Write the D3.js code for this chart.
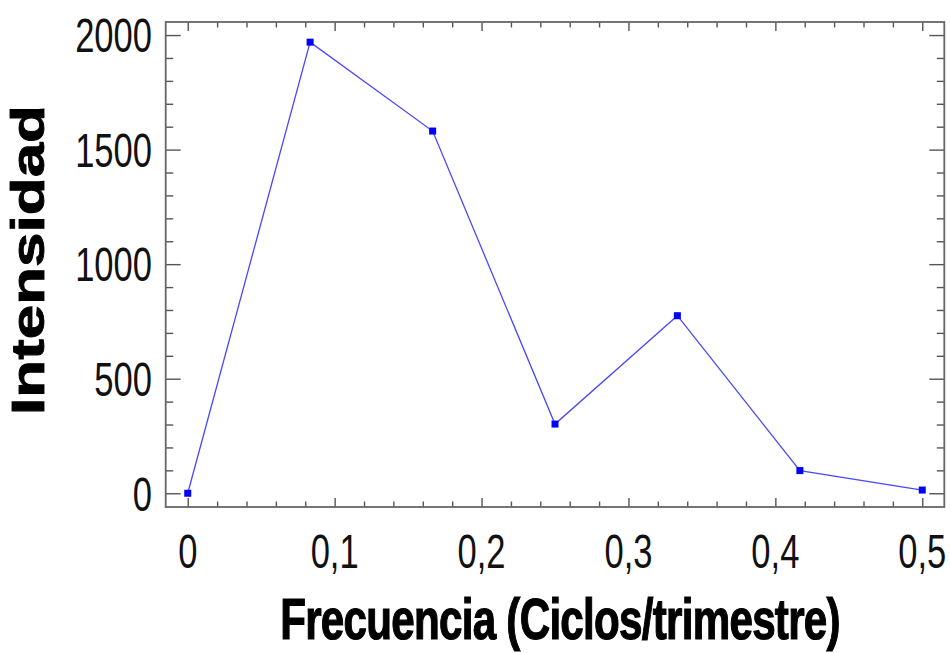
<!DOCTYPE html>
<html>
<head>
<meta charset="utf-8">
<script src="https://cdn.jsdelivr.net/npm/d3@7"></script>
<style>
  html, body { margin: 0; padding: 0; background: #fff; }
  svg { display: block; font-family: "Liberation Sans", Arial, sans-serif; }
</style>
</head>
<body>
<svg id="chart" width="950" height="653"></svg>
<script>
// Periodogram: intensity by frequency (cycles per quarter)
const frecuencia = [0, 0.0833, 0.1667, 0.25, 0.3333, 0.4167, 0.5];
const intensidad = [0, 1969, 1581, 302, 775, 99, 14];
const xTicks = [0, 0.1, 0.2, 0.3, 0.4, 0.5];
const xTickLabels = ["0", "0,1", "0,2", "0,3", "0,4", "0,5"];
const yTicks = [0, 500, 1000, 1500, 2000];
const yTickLabels = ["0", "500", "1000", "1500", "2000"];
const xTitle = "Frecuencia (Ciclos/trimestre)";
const yTitle = "Intensidad";

const svg = d3.select("#chart");
const plotL = 165.7, plotR = 944.3, plotT = 22, plotB = 507;
const squeeze = 0.72;

const x = d3.scaleLinear().domain([-0.015, 0.515]).range([plotL, plotR]);
const y = d3.scaleLinear().domain([-60, 2057]).range([plotB, plotT]);

const xMinor = d3.range(0, 0.5001, 0.02).filter(v => !xTicks.some(t => Math.abs(t - v) < 1e-6));
const yMinor = d3.range(0, 2001, 100).filter(v => v % 500 !== 0);

const tickColor = "#555";

// Inward ticks on all four sides
function tickAxis(gen, transform, size) {
  const g = svg.append("g").attr("transform", transform).call(gen.tickSize(size).tickFormat(""));
  g.select(".domain").remove();
  g.selectAll("line").attr("stroke", tickColor).attr("stroke-width", 1.4);
}
tickAxis(d3.axisBottom(x).tickValues(xTicks), `translate(0,${plotB})`, -9);
tickAxis(d3.axisBottom(x).tickValues(xMinor), `translate(0,${plotB})`, -5.5);
tickAxis(d3.axisTop(x).tickValues(xTicks), `translate(0,${plotT})`, -9);
tickAxis(d3.axisTop(x).tickValues(xMinor), `translate(0,${plotT})`, -5.5);
tickAxis(d3.axisLeft(y).tickValues(yTicks), `translate(${plotL},0)`, -15);
tickAxis(d3.axisLeft(y).tickValues(yMinor), `translate(${plotL},0)`, -7.5);
tickAxis(d3.axisRight(y).tickValues(yTicks), `translate(${plotR},0)`, -15);
tickAxis(d3.axisRight(y).tickValues(yMinor), `translate(${plotR},0)`, -7.5);

// Plot frame
svg.append("rect")
  .attr("x", plotL).attr("y", plotT)
  .attr("width", plotR - plotL).attr("height", plotB - plotT)
  .attr("fill", "none").attr("stroke", "#666").attr("stroke-width", 1.8);

// Tick labels
svg.append("g").selectAll("g")
  .data(yTicks)
  .join("g")
  .attr("transform", d => `translate(152,${y(d)}) scale(${squeeze},1)`)
  .append("text")
  .attr("text-anchor", "end")
  .attr("dy", "0.36em")
  .attr("font-size", 48)
  .attr("fill", "#111")
  .text((d, i) => yTickLabels[i]);

svg.append("g").selectAll("g")
  .data(xTicks)
  .join("g")
  .attr("transform", d => `translate(${x(d)},568) scale(${squeeze},1)`)
  .append("text")
  .attr("text-anchor", "middle")
  .attr("font-size", 48)
  .attr("fill", "#111")
  .text((d, i) => xTickLabels[i]);

// Axis titles (heavy bold)
svg.append("g")
  .attr("transform", `translate(${(plotL + plotR) / 2 + 5},639) scale(0.74,1)`)
  .append("text")
  .attr("text-anchor", "middle")
  .attr("font-size", 57)
  .attr("font-weight", "bold")
  .attr("letter-spacing", -1)
  .attr("fill", "#000")
  .attr("stroke", "#000")
  .attr("stroke-width", 1.2)
  .text(xTitle);

svg.append("g")
  .attr("transform", `translate(44,260) scale(0.74,1) rotate(-90)`)
  .append("text")
  .attr("text-anchor", "middle")
  .attr("font-size", 62)
  .attr("font-weight", "bold")
  .attr("fill", "#000")
  .attr("stroke", "#000")
  .attr("stroke-width", 1.2)
  .text(yTitle);

// Series line and markers
const pts = frecuencia.map((f, i) => [f, intensidad[i]]);
svg.append("path")
  .datum(pts)
  .attr("fill", "none")
  .attr("stroke", "#4848ff")
  .attr("stroke-width", 1.3)
  .attr("d", d3.line().x(d => x(d[0])).y(d => y(d[1])));

svg.append("g").selectAll("rect")
  .data(pts)
  .join("rect")
  .attr("x", d => x(d[0]) - 3.5)
  .attr("y", d => y(d[1]) - 3.5)
  .attr("width", 7).attr("height", 7)
  .attr("fill", "#0000ff");
</script>
</body>
</html>
